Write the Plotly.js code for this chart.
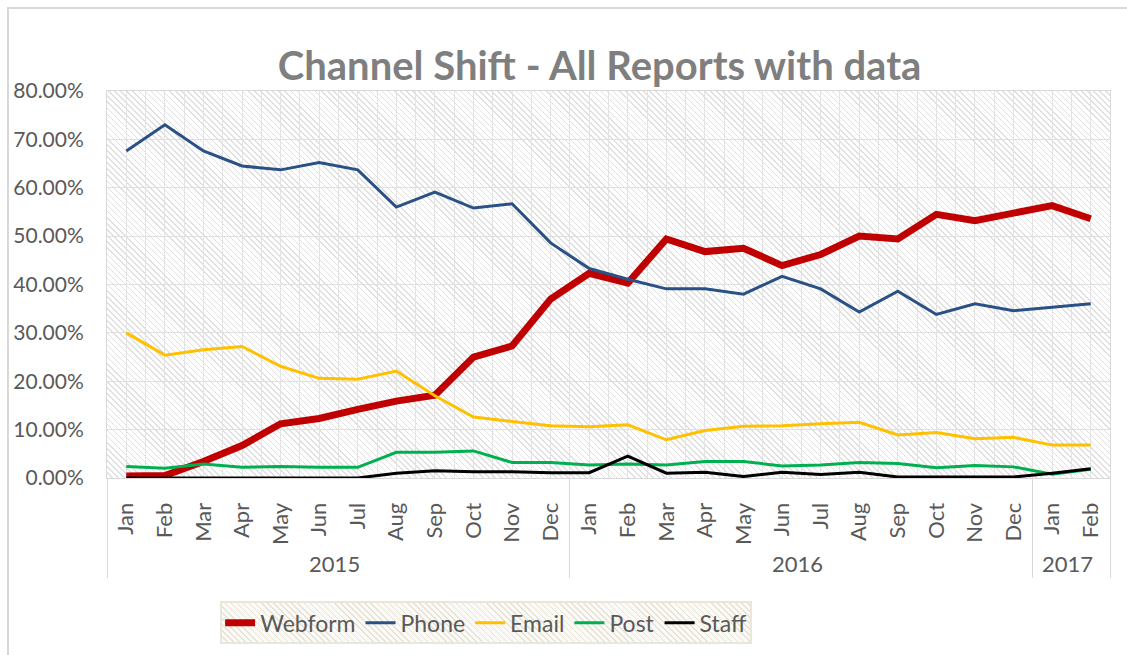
<!DOCTYPE html>
<html>
<head>
<meta charset="utf-8">
<script src="https://cdn.plot.ly/plotly-3.0.1.min.js"></script>
<style>
  html, body { margin: 0; padding: 0; background: #ffffff; }
  #wrap { position: relative; width: 1127px; height: 655px; overflow: hidden; }
  #frame { position: absolute; left: 7px; top: 7px; width: 1200px; height: 800px;
           border-left: 2px solid #d9d9d9; border-top: 2px solid #d9d9d9; }
  .hatch { position: absolute;
           background: repeating-linear-gradient(45deg, #ffffff 0px, #ffffff 3.2px, #e0e0e0 3.2px, #e0e0e0 4.3px); }
  .hatchLeg { position: absolute; box-sizing: border-box; border: 2px solid #e9e6da;
           background: repeating-linear-gradient(45deg, #fbfaf6 0px, #fbfaf6 3.2px, #e6e3d6 3.2px, #e6e3d6 4.3px); }
  #chart { position: absolute; left: 0; top: 0; width: 1127px; height: 655px; z-index: 2; }
</style>
</head>
<body>
<div id="wrap">
  <div id="frame"></div>
  <div id="plotHatch" class="hatch"></div>
  <div id="legHatch" class="hatchLeg"></div>
  <div id="chart"></div>
</div>
<script>
const months = ['Jan','Feb','Mar','Apr','May','Jun','Jul','Aug','Sep','Oct','Nov','Dec',
                'Jan','Feb','Mar','Apr','May','Jun','Jul','Aug','Sep','Oct','Nov','Dec',
                'Jan','Feb'];
const years = ['2015','2015','2015','2015','2015','2015','2015','2015','2015','2015','2015','2015',
               '2016','2016','2016','2016','2016','2016','2016','2016','2016','2016','2016','2016',
               '2017','2017'];

const webform = [0.4,0.5,3.4,6.7,11.2,12.3,14.2,15.9,17.1,25.0,27.3,37.0,
                 42.3,40.3,49.4,46.8,47.5,43.9,46.2,50.0,49.4,54.5,53.2,54.6,56.3,53.6];
const phone   = [67.6,73.0,67.6,64.5,63.7,65.2,63.7,56.0,59.1,55.8,56.7,48.6,
                 43.3,41.1,39.1,39.1,38.0,41.7,39.1,34.3,38.6,33.8,36.0,34.6,35.3,36.0];
const email   = [30.0,25.4,26.5,27.2,23.1,20.6,20.4,22.1,17.0,12.6,11.7,10.8,
                 10.6,11.0,7.9,9.8,10.7,10.8,11.2,11.5,8.9,9.4,8.1,8.4,6.8,6.8];
const post    = [2.4,2.0,2.9,2.2,2.4,2.2,2.2,5.3,5.3,5.6,3.2,3.2,
                 2.7,2.9,2.7,3.4,3.4,2.5,2.7,3.2,3.0,2.1,2.6,2.3,0.8,1.8];
const staff   = [0,0,0,0,0,0,0,1.0,1.5,1.3,1.3,1.1,
                 1.1,4.5,1.0,1.2,0.3,1.2,0.7,1.2,0.2,0.2,0.2,0.2,1.0,1.9];

const seriesNames = ['Webform','Phone','Email','Post','Staff'];
const seriesData = [webform, phone, email, post, staff];
const seriesColors = ['#c00000','#2a5185','#ffc000','#00b050','#000000'];
const seriesWidths = [7, 3, 3, 3, 3];

const FONT = 'Lato, "Open Sans", sans-serif';
const GREY = '#595959';

const traces = seriesNames.map((n, i) => ({
  type: 'scatter', mode: 'lines', name: n,
  x: [years, months], y: seriesData[i],
  line: { color: seriesColors[i], width: seriesWidths[i] },
  hoverinfo: 'skip'
}));
// invisible helper trace for half-category vertical gridlines
traces.push({ type: 'scatter', mode: 'lines', x: [-0.5, 25.5], y: [0, 0], xaxis: 'x2',
  line: { width: 0 }, showlegend: false, hoverinfo: 'skip', opacity: 0 });

const layout = {
  width: 1127, height: 655,
  margin: { l: 107, r: 17, t: 91, b: 176 },
  paper_bgcolor: 'rgba(0,0,0,0)',
  plot_bgcolor: 'rgba(0,0,0,0)',
  font: { family: FONT, color: GREY },
  title: { text: '<b>Channel Shift - All Reports with data</b>',
           font: { family: FONT, size: 40, color: '#7f7f7f' },
           x: 0.532, xanchor: 'center', y: 0.9, yanchor: 'middle' },
  showlegend: true,
  legend: { orientation: 'h', x: 0.378, xanchor: 'center', y: -0.315, yanchor: 'top',
            bgcolor: 'rgba(0,0,0,0)', borderwidth: 0,
            font: { family: FONT, size: 23, color: GREY }, traceorder: 'normal' },
  xaxis: { type: 'multicategory', range: [-0.5, 25.5], showgrid: false, ticks: '', tickangle: -90,
           tickfont: { family: FONT, size: 22, color: GREY }, ticklabelstandoff: 15,
           showdividers: true, dividercolor: '#d9d9d9', dividerwidth: 1,
           showline: true, linecolor: '#d9d9d9', linewidth: 1, mirror: true,
           zeroline: false, fixedrange: true },
  xaxis2: { overlaying: 'x', range: [-0.5, 25.5], tick0: -0.5, dtick: 0.5,
            showgrid: true, gridcolor: '#e3e3e3', gridwidth: 1,
            showticklabels: false, ticks: '', zeroline: false, showline: false,
            side: 'bottom', fixedrange: true },
  yaxis: { range: [0, 80], dtick: 10, tickformat: '.2f', ticksuffix: '%',
           showgrid: true, gridcolor: '#e0e0e0', gridwidth: 1,
           tickfont: { family: FONT, size: 21, color: GREY }, ticklabelstandoff: 18,
           zeroline: false, showline: true, linecolor: '#d9d9d9', mirror: true,
           ticks: '', ticklen: 0, fixedrange: true }
};

Plotly.newPlot('chart', traces, layout, { displayModeBar: false, staticPlot: true }).then(gd => {
  const s = gd._fullLayout._size;
  const ph = document.getElementById('plotHatch');
  ph.style.left = s.l + 'px'; ph.style.top = s.t + 'px';
  ph.style.width = s.w + 'px'; ph.style.height = s.h + 'px';
  const bg = gd.querySelector('.legend .bg');
  const wrap = document.getElementById('wrap').getBoundingClientRect();
  if (bg) {
    const r = bg.getBoundingClientRect();
    const lh = document.getElementById('legHatch');
    lh.style.left = (r.left - wrap.left) + 'px'; lh.style.top = (r.top - wrap.top) + 'px';
    lh.style.width = r.width + 'px'; lh.style.height = r.height + 'px';
  }
});
</script>
</body>
</html>
